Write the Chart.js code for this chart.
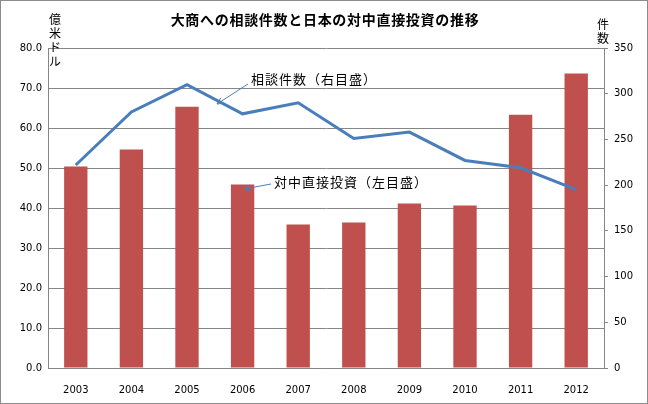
<!DOCTYPE html>
<html>
<head>
<meta charset="utf-8">
<script src="https://cdn.jsdelivr.net/npm/chart.js@4.4.0/dist/chart.umd.min.js"></script>
<style>
  body { margin: 0; background: #fff; }
  #wrap { position: relative; width: 646px; height: 402px; border: 1px solid #8c8c8c; }
</style>
</head>
<body>
<div id="wrap"><canvas id="myChart" width="646" height="402"></canvas></div>
<script>
// データ
const years = ['2003', '2004', '2005', '2006', '2007', '2008', '2009', '2010', '2011', '2012'];
const toushi = [50.4, 54.6, 65.3, 45.9, 35.9, 36.4, 41.1, 40.6, 63.3, 73.6];   // 億米ドル
const soudan = [222, 280, 310, 278, 290, 251, 258, 227, 219, 195];            // 件数

const fuente = "'Noto Sans CJK JP', sans-serif";

// 注釈、タイトル、軸タイトル
const notas = {
  id: 'notas',
  afterDraw(chart) {
    const c = chart.ctx;
    c.save();
    c.fillStyle = '#000';
    c.textBaseline = 'middle';
    c.font = 'bold 14px ' + fuente;
    c.letterSpacing = '0.7px';
    c.textAlign = 'center';
    c.fillText('大商への相談件数と日本の対中直接投資の推移', 324, 19);

    c.font = '12px ' + fuente;
    c.letterSpacing = '0px';
    ['億', '米', 'ド', 'ル'].forEach((t, i) => c.fillText(t, 54, 18 + i * 14));
    ['件', '数'].forEach((t, i) => c.fillText(t, 602, 23 + i * 14));

    c.textAlign = 'left';
    c.font = '13px ' + fuente;
    c.letterSpacing = '1px';
    c.fillText('相談件数（右目盛）', 250, 78);
    c.fillText('対中直接投資（左目盛）', 273, 181);

    // 矢印
    const flecha = (x0, y0, x1, y1) => {
      c.strokeStyle = '#4a7ebb';
      c.lineWidth = 1;
      c.beginPath(); c.moveTo(x0, y0); c.lineTo(x1, y1); c.stroke();
      const a = Math.atan2(y1 - y0, x1 - x0);
      c.beginPath();
      c.moveTo(x1, y1);
      c.lineTo(x1 - 7 * Math.cos(a - 0.45), y1 - 7 * Math.sin(a - 0.45));
      c.moveTo(x1, y1);
      c.lineTo(x1 - 7 * Math.cos(a + 0.45), y1 - 7 * Math.sin(a + 0.45));
      c.stroke();
    };
    flecha(247, 83, 216, 103);
    flecha(270, 183, 243, 188);
    c.restore();
  }
};

const ctx = document.getElementById('myChart').getContext('2d');
const myChart = new Chart(ctx, {
  type: 'bar',
  data: {
    labels: years,
    datasets: [{
      type: 'line',
      label: '相談件数',
      data: soudan,
      yAxisID: 'y1',
      borderColor: '#4a7ebb',
      borderWidth: 3,
      pointRadius: 0,
      tension: 0,
      order: 0
    }, {
      label: '対中直接投資',
      data: toushi,
      yAxisID: 'y',
      backgroundColor: '#c0504d',
      barPercentage: 0.42,
      categoryPercentage: 1,
      order: 1
    }]
  },
  options: {
    responsive: false,
    animation: false,
    layout: { padding: { top: 47, right: 0, left: 0, bottom: 0 } },
    plugins: { legend: { display: false }, tooltip: { enabled: false } },
    scales: {
      x: {
        grid: { display: false },
        border: { color: '#868686' },
        ticks: { color: '#000', font: { family: 'DejaVu Sans', size: 10 }, padding: 8 },
        afterFit(s) { s.height = 35; }
      },
      y: {
        position: 'left',
        min: 0, max: 80,
        ticks: { stepSize: 10, color: '#000', font: { family: 'DejaVu Sans', size: 10 },
          callback: v => v.toFixed(1), padding: 6 },
        grid: { color: '#868686', drawTicks: false },
        border: { color: '#868686' },
        afterFit(s) { s.width = 47; }
      },
      y1: {
        position: 'right',
        min: 0, max: 350,
        ticks: { stepSize: 50, color: '#000', font: { family: 'DejaVu Sans', size: 10 }, padding: 6 },
        grid: { drawOnChartArea: false, drawTicks: true, tickLength: 4, color: '#868686' },
        border: { color: '#868686' },
        afterFit(s) { s.width = 43; }
      }
    }
  },
  plugins: [notas]
});
</script>
</body>
</html>
